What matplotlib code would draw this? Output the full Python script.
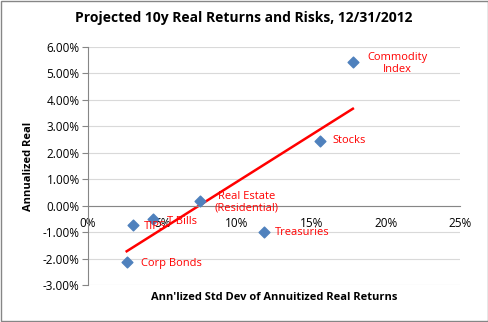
import numpy as np
import matplotlib
matplotlib.use('Agg')
import matplotlib.pyplot as plt
from matplotlib.ticker import FuncFormatter, MultipleLocator

plt.rcParams['font.family'] = ['Open Sans', 'DejaVu Sans']

# projected real returns vs risk (percent)
assets = ['Commodity\nIndex', 'Stocks', 'Real Estate\n(Residential)', 'T-Bills',
          'TIPS', 'Treasuries', 'Corp Bonds']
std_dev = [17.8, 15.6, 7.5, 4.4, 3.0, 11.8, 2.6]
real_ret = [5.43, 2.45, 0.18, -0.50, -0.73, -1.00, -2.12]

# label offsets in points, alignment
label_pos = {
    'Commodity\nIndex': (32, -1, 'center', 'center'),
    'Stocks': (9, 0, 'left', 'center'),
    'Real Estate\n(Residential)': (34, -1, 'center', 'center'),
    'T-Bills': (10, -2, 'left', 'center'),
    'TIPS': (8, -1, 'left', 'center'),
    'Treasuries': (8, 0, 'left', 'center'),
    'Corp Bonds': (10, -1, 'left', 'center'),
}

fig = plt.figure(figsize=(4.89, 3.22), dpi=100)
ax = fig.add_axes([88/489, 1-285/322, 372/489, 238/322])

ax.scatter(std_dev, real_ret, marker='D', s=30, color='#4F81BD', zorder=3)

# linear trend line across the data range
slope, icpt = np.polyfit(std_dev, real_ret, 1)
xs = np.array([min(std_dev), max(std_dev)])
ax.plot(xs, slope*xs + icpt, color='red', lw=1.8, zorder=2)

for name, x, y in zip(assets, std_dev, real_ret):
    dx, dy, ha, va = label_pos[name]
    ax.annotate(name, (x, y), xytext=(dx, dy), textcoords='offset points',
                ha=ha, va=va, color='red', fontsize=8, linespacing=1.15, zorder=4)

ax.set_xlim(0, 25)
ax.set_ylim(-3, 6)
ax.xaxis.set_major_locator(MultipleLocator(5))
ax.yaxis.set_major_locator(MultipleLocator(1))
ax.xaxis.set_major_formatter(FuncFormatter(lambda v, p: '%d%%' % v))
ax.yaxis.set_major_formatter(FuncFormatter(lambda v, p: '%.2f%%' % v))

ax.grid(axis='y', color='#D9D9D9', lw=0.8)
ax.set_axisbelow(True)
for s in ['top', 'right']:
    ax.spines[s].set_visible(False)
ax.spines['bottom'].set_position(('data', 0))
ax.spines['bottom'].set_color('#868686')
ax.spines['left'].set_color('#868686')
ax.tick_params(axis='y', length=4, color='#868686', labelsize=8.5, pad=2)
ax.tick_params(axis='x', length=0, labelsize=8.5, pad=8)

ax.set_ylabel('Annualized Real', fontsize=8, fontweight='bold', labelpad=6)
fig.text(274/489, 1-297/322, "Ann'lized Std Dev of Annuitized Real Returns",
         ha='center', va='center', fontsize=8, fontweight='bold')
fig.text(244/489, 1-18/322, 'Projected 10y Real Returns and Risks, 12/31/2012',
         ha='center', va='center', fontsize=10, fontweight='bold')

fig.patches.append(plt.Rectangle((0.002, 0.003), 0.995, 0.994, transform=fig.transFigure,
                                 fill=False, edgecolor='#868686', lw=1))

fig.savefig('out.png', dpi=100)
